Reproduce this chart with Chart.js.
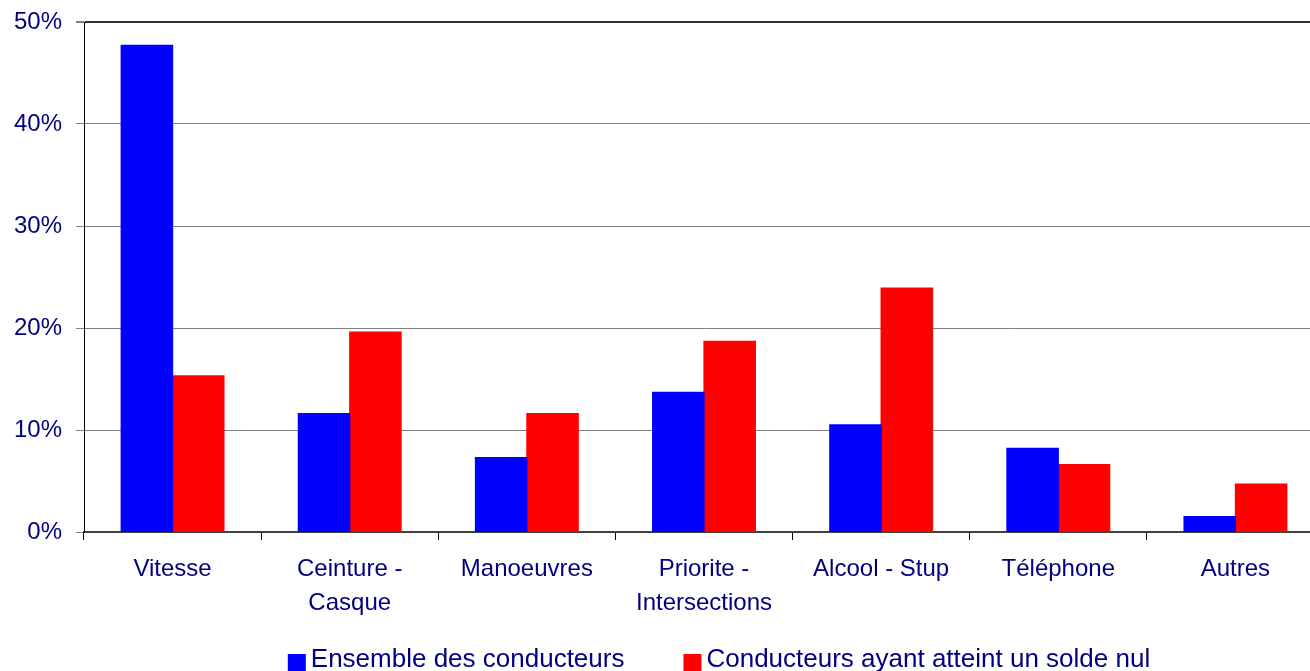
<!DOCTYPE html>
<html>
<head>
<meta charset="utf-8">
<script src="https://cdn.jsdelivr.net/npm/chart.js@4.4.0/dist/chart.umd.min.js"></script>
<style>
html,body{margin:0;padding:0;background:#fff;overflow:hidden;}
#wrap{position:relative;width:1310px;height:671px;overflow:hidden;}
canvas{position:absolute;left:0;top:0;}
</style>
</head>
<body>
<div id="wrap"><canvas id="c" width="1340" height="690" style="width:1340px;height:690px"></canvas></div>
<script>
const categories = ['Vitesse', ['Ceinture -', 'Casque'], 'Manoeuvres', ['Priorite -', 'Intersections'], 'Alcool - Stup', 'Téléphone', 'Autres'];
const seriesNames = ['Ensemble des conducteurs', 'Conducteurs ayant atteint un solde nul'];
const ensemble = [47.7, 11.6, 7.3, 13.7, 10.5, 8.2, 1.5];
const soldeNul = [15.3, 19.6, 11.6, 18.7, 23.9, 6.6, 4.7];
const yTicks = [0, 10, 20, 30, 40, 50];

const textColor = '#000080';
const fontFamily = "'Liberation Sans', Arial, sans-serif";

const legendPlugin = {
  id: 'customLegend',
  afterDraw(chart) {
    const ctx = chart.ctx;
    ctx.save();
    ctx.font = '26px ' + fontFamily;
    ctx.textBaseline = 'alphabetic';
    const sq = 18, gap1 = 5, itemGap = 59;
    const ds = chart.data.datasets;
    const widths = ds.map(d => ctx.measureText(d.label).width);
    let total = 0;
    widths.forEach((w, i) => { total += sq + gap1 + w + (i < widths.length - 1 ? itemGap : 0); });
    let x = 719 - total / 2;
    const base = 667;
    ds.forEach((d, i) => {
      ctx.fillStyle = d.backgroundColor;
      ctx.fillRect(x, base - 13, sq, sq);
      x += sq + gap1;
      ctx.fillStyle = textColor;
      ctx.fillText(d.label, x, base);
      x += widths[i] + itemGap;
    });
    ctx.restore();
  }
};

new Chart(document.getElementById('c'), {
  type: 'bar',
  data: {
    labels: categories,
    datasets: [
      { label: seriesNames[0], data: ensemble, backgroundColor: '#0000FF', borderWidth: 0, inflateAmount: 0.6 },
      { label: seriesNames[1], data: soldeNul, backgroundColor: '#FF0000', borderWidth: 0, inflateAmount: 0.6 }
    ]
  },
  options: {
    responsive: false,
    animation: false,
    devicePixelRatio: 1,
    layout: { padding: { left: 0, top: 22, right: 16, bottom: 58 } },
    plugins: { legend: { display: false }, tooltip: { enabled: false } },
    datasets: { bar: { categoryPercentage: 0.58, barPercentage: 1.0 } },
    scales: {
      x: {
        grid: { display: true, drawOnChartArea: false, drawTicks: true, tickLength: 8, color: '#000', lineWidth: 1, offset: true },
        border: { display: true, color: '#404040', width: 2 },
        ticks: { color: textColor, font: { family: fontFamily, size: 24, lineHeight: 1.4 }, padding: 13, maxRotation: 0, autoSkip: false },
        afterFit(s) { s.height = 100; s.paddingLeft = 0; s.paddingRight = 0; }
      },
      y: {
        min: 0, max: 50,
        afterBuildTicks(s) { s.ticks = yTicks.map(v => ({ value: v })); },
        grid: {
          color: ctx => (ctx.tick && ctx.tick.value === 50) ? '#333333' : '#808080',
          lineWidth: ctx => (ctx.tick && ctx.tick.value === 50) ? 2 : 1,
          tickLength: 8,
          tickColor: '#808080'
        },
        border: { display: true, color: '#000', width: 1 },
        ticks: { color: textColor, font: { family: fontFamily, size: 24 }, padding: 14, callback: v => v + '%' },
        afterFit(s) { s.width = 84; s.paddingTop = 0; s.paddingBottom = 0; }
      }
    }
  },
  plugins: [legendPlugin]
});
</script>
</body>
</html>
